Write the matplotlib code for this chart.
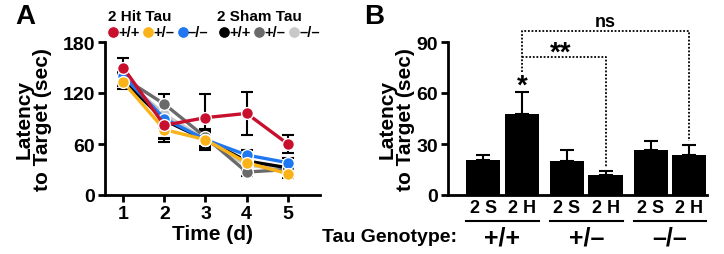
import numpy as np
import matplotlib
matplotlib.use('Agg')
import matplotlib.pyplot as plt
from matplotlib.lines import Line2D

plt.rcParams['font.family'] = ['Liberation Sans', 'DejaVu Sans']
plt.rcParams['font.weight'] = 'bold'

# ---- panel A data: latency per day, mean and SEM
days = [1, 2, 3, 4, 5]
series_colors = ['#c8c8c8', '#6a6a6a', '#000000', '#1f78f0', '#f9b318', '#c8102e']
lat_hit_pp = [150, 82, 91, 96, 60]
lat_hit_pm = [133, 77, 65, 38, 25]
lat_hit_mm = [140, 90, 65, 47, 38]
lat_sham_pp = [135, 88, 65, 40, 32]
lat_sham_pm = [138, 107, 68, 27, 30]
lat_sham_mm = [137, 95, 65, 35, 30]
sem_hit_pp = [11, 20, 28, 25, 11]
sem_hit_pm = [8, 10, 8, 8, 5]
sem_hit_mm = [8, 12, 8, 6, 5]
sem_sham_pp = [7, 22, 12, 6, 5]
sem_sham_pm = [10, 12, 10, 5, 5]
sem_sham_mm = [8, 12, 10, 6, 5]

# ---- panel B data: bars (2 Sham / 2 Hit per genotype)
genotypes = ['+/+', '+/\u2013', '\u2013/\u2013']
bar_labels = ['2 S', '2 H', '2 S', '2 H', '2 S', '2 H']
bar_means = [20.5, 47.5, 20.0, 12.0, 26.5, 23.5]
bar_sems = [3.0, 13.0, 6.5, 2.2, 5.5, 5.8]

fig = plt.figure(figsize=(7.24, 2.55), dpi=100)

################################################################################
### panel A
axA = fig.add_axes([105/724, 59/255, 215/724, 153/255])
means = [lat_sham_mm, lat_sham_pm, lat_sham_pp, lat_hit_mm, lat_hit_pm, lat_hit_pp]
sems = [sem_sham_mm, sem_sham_pm, sem_sham_pp, sem_hit_mm, sem_hit_pm, sem_hit_pp]
for i, (m, s, c) in enumerate(zip(means, sems, series_colors)):
    axA.errorbar(days, m, yerr=s, fmt='none', ecolor='black', elinewidth=1.5,
                 capsize=4, capthick=1.5, zorder=2 + i*0.1)
    axA.plot(days, m, '-o', color=c, lw=2.4, ms=8.5, mec='white', mew=1.0,
             zorder=3 + i*0.1)

axA.set_xlim(0.56, 5.78)
axA.set_ylim(0, 180)
axA.set_yticks([0, 60, 120, 180])
axA.set_xticks(days)
for sp in ['top', 'right']:
    axA.spines[sp].set_visible(False)
for sp in ['left', 'bottom']:
    axA.spines[sp].set_linewidth(2)
axA.tick_params(width=2, length=5, labelsize=14, pad=2)
axA.set_xlabel('Time (d)', fontsize=15, fontweight='bold', labelpad=2)
axA.set_ylabel('Latency\nto Target (sec)', fontsize=15, fontweight='bold',
               linespacing=0.95)
axA.yaxis.set_label_coords(-0.245, 0.5)

################################################################################
### panel B
axB = fig.add_axes([448/724, 59/255, 259/724, 153/255])
xpos = np.array([0, 1.13, 2.45, 3.58, 4.9, 6.03])
axB.bar(xpos, bar_means, width=1.0, color='black', zorder=2)
axB.errorbar(xpos, bar_means, yerr=[np.zeros(len(bar_sems)), bar_sems], fmt='none',
             ecolor='black', elinewidth=1.5, capsize=5, capthick=1.5, zorder=1)
axB.set_xlim(-1.03, 6.55)
axB.set_ylim(0, 90)
axB.set_yticks([0, 30, 60, 90])
axB.set_xticks(xpos)
axB.set_xticklabels(bar_labels, fontsize=13)
for sp in ['top', 'right']:
    axB.spines[sp].set_visible(False)
for sp in ['left', 'bottom']:
    axB.spines[sp].set_linewidth(2)
axB.tick_params(axis='y', width=2, length=5, labelsize=14, pad=2)
axB.tick_params(axis='x', length=0, pad=3)
axB.set_ylabel('Latency\nto Target (sec)', fontsize=15, fontweight='bold',
               linespacing=0.95)
axB.yaxis.set_label_coords(-0.127, 0.5)

# group underlines and genotype labels
tr = axB.get_xaxis_transform()
for g, name in enumerate(genotypes):
    x0 = xpos[2*g] - 0.5
    x1 = xpos[2*g + 1] + 0.5
    axB.plot([x0, x1], [-0.17, -0.17], color='black', lw=1.5, transform=tr,
             clip_on=False)
    axB.text((x0 + x1) / 2, -0.275, name, transform=tr, ha='center', va='center',
             fontsize=18, fontweight='bold')
fig.text(457/724, 17/255, 'Tau Genotype:', ha='right', va='center', fontsize=14,
         fontweight='bold')

# significance brackets
dot = dict(color='black', lw=1.3, ls=(0, (1, 1)), clip_on=False)
axB.plot([xpos[1], xpos[1], xpos[5], xpos[5]], [72.5, 96.5, 96.5, 32], **dot)
axB.plot([xpos[1], xpos[3], xpos[3]], [81.2, 81.2, 16.5], **dot)
axB.text(xpos[1], 60, '*', ha='center', va='baseline', fontsize=20,
         fontweight='bold')
axB.text((xpos[1] + xpos[3]) / 2 - 0.1, 79.5, '**', ha='center', va='baseline',
         fontsize=20, fontweight='bold')
axB.text(xpos[3], 99.4, 'ns', ha='center', va='baseline', fontsize=13,
         fontweight='bold', clip_on=False)

################################################################################
### panel letters and legend
fig.text(15/724, 1 - 17/255, 'A', fontsize=20, fontweight='bold', va='center')
fig.text(364/724, 1 - 17/255, 'B', fontsize=20, fontweight='bold', va='center')

fig.text(108/724, 1 - 17/255, '2 Hit Tau', fontsize=11, fontweight='bold',
         va='center')
fig.text(217/724, 1 - 17/255, '2 Sham Tau', fontsize=11, fontweight='bold',
         va='center')
leg_x = [113, 148, 183, 224, 259, 294]
leg_txt = ['+/+', '+/\u2013', '\u2013/\u2013', '+/+', '+/\u2013', '\u2013/\u2013']
leg_col = ['#c8102e', '#f9b318', '#1f78f0', '#000000', '#6a6a6a', '#c8c8c8']
for x, t, c in zip(leg_x, leg_txt, leg_col):
    fig.add_artist(Line2D([x/724], [1 - 33/255], marker='o', ms=8.5, color=c,
                          mec='white', mew=0.8, transform=fig.transFigure))
    fig.text((x + 5)/724, 1 - 33/255, t, fontsize=10.5, fontweight='bold',
             va='center')

fig.savefig('out.png', dpi=100)
